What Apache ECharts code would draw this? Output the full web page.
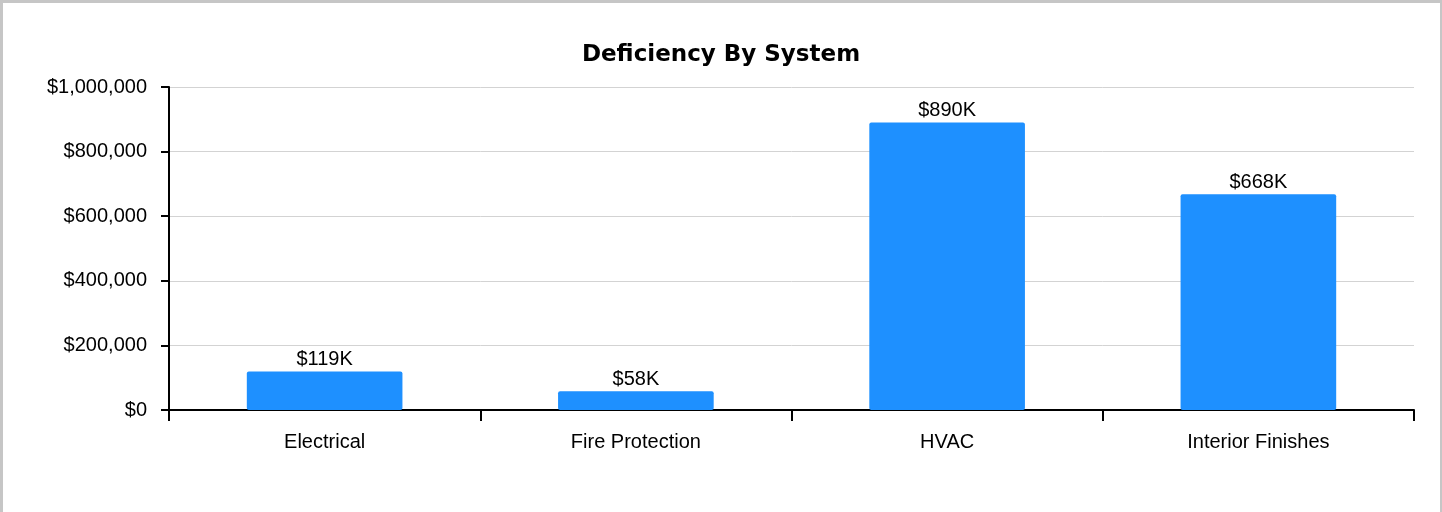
<!DOCTYPE html>
<html>
<head>
<meta charset="utf-8">
<script src="https://cdn.jsdelivr.net/npm/echarts@6/dist/echarts.min.js"></script>
<style>
	html, body { margin: 0; padding: 0; background: #ffffff; }
	#chart_deficiency { position: absolute; left: 0; top: 0; width: 1442px; height: 512px; }
	#frame { position: absolute; left: 0; top: 0; width: 1437px; height: 509px; border-top: 3px solid #c6c6c6; border-left: 3px solid #c6c6c6; border-right: 2px solid #c6c6c6; pointer-events: none; }
</style>
</head>
<body>
<div id="chart_deficiency"></div>
<div id="frame"></div>
<script>
	// systems and deficiency cost ($)
	var categories = ['Electrical', 'Fire Protection', 'HVAC', 'Interior Finishes'];
	var deficiencyValues = [119000, 58000, 890000, 668000];
	var yMax = 1000000;
	var yStep = 200000;

	var chart = echarts.init(document.getElementById('chart_deficiency'));
	var font = 'Arial, "Liberation Sans", sans-serif';
	var option = {
		animation: false,
		title: {
			text: 'Deficiency By System',
			left: 'center',
			top: 39,
			textStyle: {
				fontFamily: 'Verdana, "DejaVu Sans", sans-serif',
				fontWeight: 'bold',
				fontSize: 23,
				color: '#000000'
			}
		},
		grid: { left: 169, right: 28, top: 87, bottom: 102 },
		xAxis: {
			type: 'category',
			data: categories,
			axisLine: { lineStyle: { color: '#000000', width: 2 } },
			axisTick: { show: true, length: 11, lineStyle: { color: '#000000', width: 2 } },
			axisLabel: { color: '#000000', fontSize: 20, fontFamily: font, margin: 22 }
		},
		yAxis: {
			type: 'value',
			min: 0,
			max: yMax,
			interval: yStep,
			axisLine: { show: true, lineStyle: { color: '#000000', width: 2 } },
			axisTick: { show: true, length: 8, lineStyle: { color: '#000000', width: 2 } },
			splitLine: { lineStyle: { color: '#d3d3d3', width: 1 } },
			axisLabel: {
				color: '#000000', fontSize: 20, fontFamily: font, margin: 22,
				formatter: function (v) { return '$' + v.toLocaleString('en-US'); }
			}
		},
		series: [{
			type: 'bar',
			data: deficiencyValues,
			barWidth: '50%',
			itemStyle: { color: '#1e90ff', borderRadius: 2 },
			label: {
				show: true,
				position: 'top',
				distance: 2,
				color: '#000000',
				fontSize: 20,
				fontFamily: font,
				formatter: function (p) { return '$' + Math.round(p.value / 1000) + 'K'; }
			}
		}]
	};
	chart.setOption(option);
</script>
</body>
</html>
